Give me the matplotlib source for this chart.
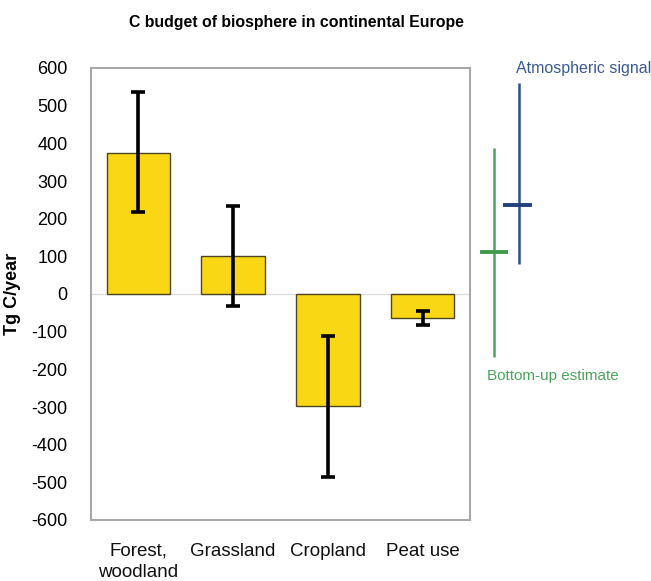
import matplotlib
matplotlib.use("Agg")
import matplotlib.pyplot as plt
import numpy as np

plt.rcParams['font.family'] = ['Liberation Sans', 'DejaVu Sans']

categories = ["Forest,\nwoodland", "Grassland", "Cropland", "Peat use"]
values = [375, 100, -298, -65]
err_low = [158, 131, 187, 17]
err_high = [162, 134, 187, 19]

bottom_up_value = 111
bottom_up_range = [-167, 388]
atmos_value = 237
atmos_range = [80, 559]

yticks = list(range(-600, 601, 100))

fig = plt.figure(figsize=(6.51, 5.81), dpi=100)
ax = fig.add_axes([91/651, 1-520/581, 379/651, 452/581])

x = np.arange(len(categories))
ax.bar(x, values, width=0.67, color='#FAD714', edgecolor='#4d4420', linewidth=1.0, zorder=2)
ax.errorbar(x, values, yerr=[err_low, err_high], fmt='none', ecolor='black',
            elinewidth=2.6, capsize=5, capthick=2.6, zorder=3)
ax.axhline(0, color='#dddddd', linewidth=1.0, zorder=1)

ax.set_xlim(-0.5, 3.5)
ax.set_ylim(-600, 600)
ax.set_yticks(yticks)
ax.set_yticklabels([str(t) for t in yticks], fontsize=13)
ax.set_xticks(x)
ax.set_xticklabels(categories, fontsize=13.5, linespacing=1.3, color='#111111')
ax.tick_params(axis='y', length=0, pad=17)
ax.tick_params(axis='x', length=0, pad=16.5)
for s in ax.spines.values():
    s.set_color('#a8a8a8')
    s.set_linewidth(1.5)

ax.set_ylabel("Tg C/year", fontsize=13, fontweight='bold')
ax.yaxis.set_label_coords((21-91)/379, 0.5)

fig.text(296/651, 1-23/581, "C budget of biosphere in continental Europe",
         ha='center', va='center', fontsize=11.4, fontweight='bold')

# Right-hand comparison panel sharing the y scale
ax2 = fig.add_axes([470/651, 1-520/581, 100/651, 452/581], sharey=ax)
ax2.set_xlim(0, 100)
ax2.axis('off')
green = '#4aa55a'
blue = '#2c4f8c'
ax2.errorbar([24], [bottom_up_value],
             yerr=[[bottom_up_value - bottom_up_range[0]], [bottom_up_range[1] - bottom_up_value]],
             fmt='none', ecolor=green, elinewidth=1.8, capsize=0)
ax2.plot([12, 36.5], [bottom_up_value]*2, color='#3f9a4c', linewidth=2.8)
ax2.errorbar([48.7], [atmos_value],
             yerr=[[atmos_value - atmos_range[0]], [atmos_range[1] - atmos_value]],
             fmt='none', ecolor=blue, elinewidth=1.8, capsize=0)
ax2.plot([35, 60], [atmos_value]*2, color='#22407e', linewidth=2.8)

fig.text(516/651, 1-68/581, "Atmospheric signal", color='#3a5a96', fontsize=11.5,
         ha='left', va='center')
fig.text(487/651, 1-376/581, "Bottom-up estimate", color='#4aa55a', fontsize=11,
         ha='left', va='center')

fig.savefig("out.png", dpi=100)
